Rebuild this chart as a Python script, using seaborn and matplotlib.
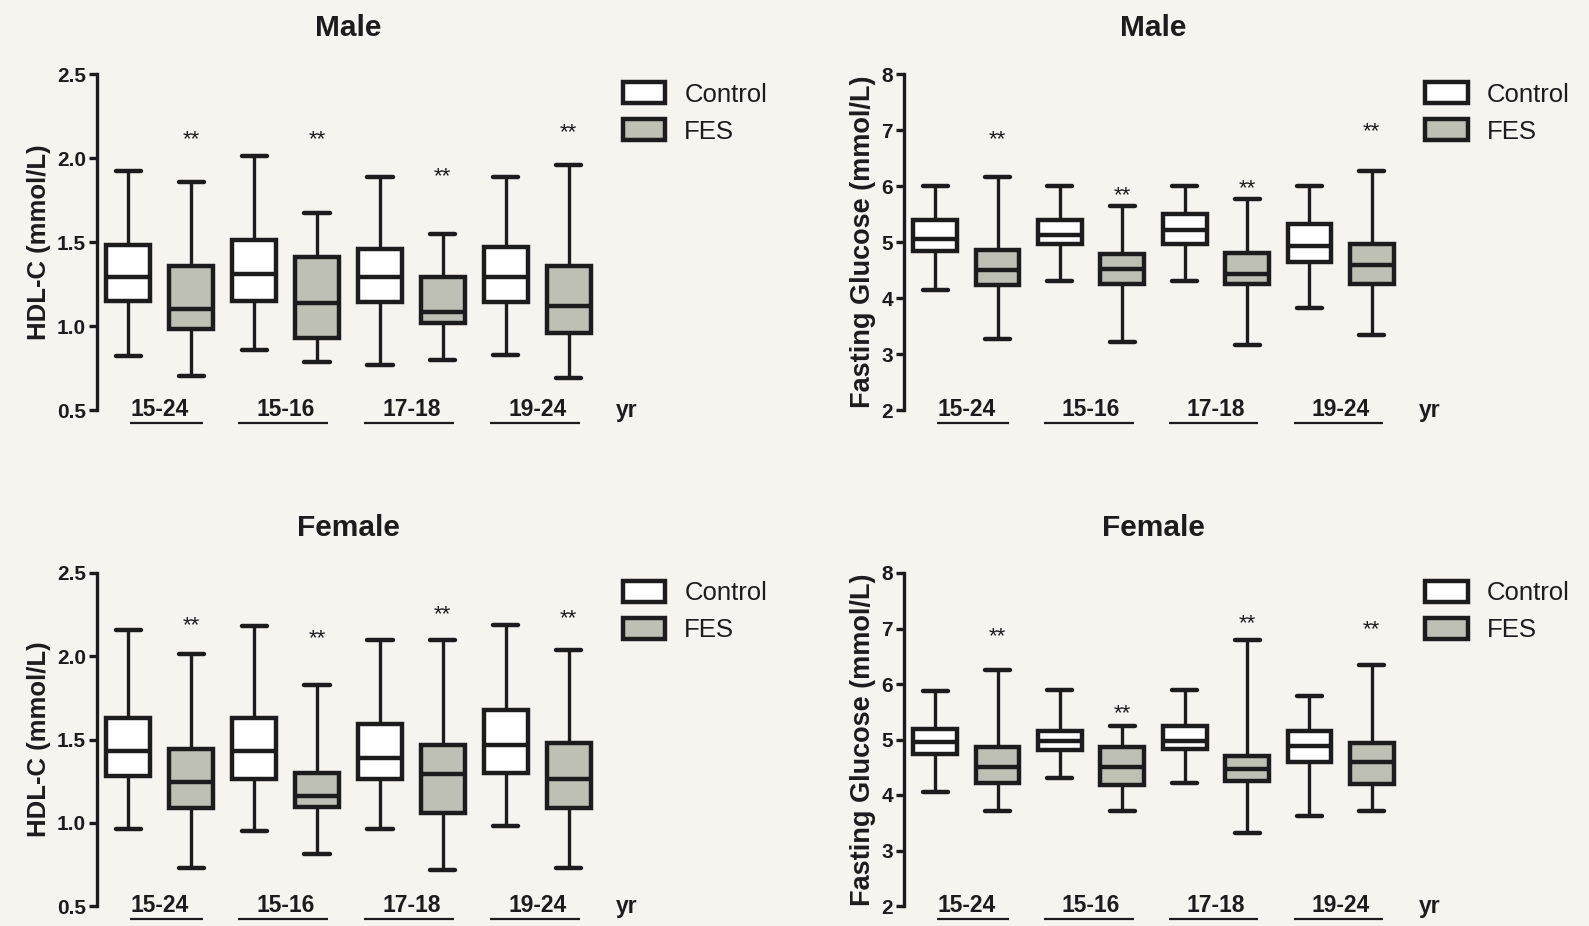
import numpy as np
import pandas as pd
import matplotlib
matplotlib.use("Agg")
import matplotlib.pyplot as plt
from matplotlib.patches import Patch
from matplotlib.transforms import blended_transform_factory, offset_copy
import seaborn as sns

# ---- data -------------------------------------------------------------
age_groups = ["15-24", "15-16", "17-18", "19-24"]
cohorts = ["Control", "FES"]

# five-number summaries per age group: [min, Q1, median, Q3, max]
hdl_male_control = [[0.82, 1.15, 1.29, 1.48, 1.92],
                    [0.86, 1.15, 1.31, 1.51, 2.01],
                    [0.77, 1.14, 1.29, 1.46, 1.885],
                    [0.83, 1.14, 1.29, 1.47, 1.885]]
hdl_male_fes = [[0.70, 0.98, 1.10, 1.36, 1.855],
                [0.785, 0.93, 1.135, 1.41, 1.67],
                [0.80, 1.02, 1.085, 1.29, 1.55],
                [0.69, 0.96, 1.12, 1.36, 1.96]]

glu_male_control = [[4.14, 4.84, 5.05, 5.39, 6.0],
                    [4.31, 4.97, 5.13, 5.40, 6.0],
                    [4.31, 4.97, 5.22, 5.50, 6.0],
                    [3.82, 4.64, 4.93, 5.32, 6.0]]
glu_male_fes = [[3.26, 4.24, 4.50, 4.85, 6.16],
                [3.22, 4.25, 4.51, 4.78, 5.64],
                [3.16, 4.25, 4.42, 4.81, 5.77],
                [3.34, 4.25, 4.59, 4.97, 6.27]]

hdl_female_control = [[0.963, 1.28, 1.43, 1.628, 2.155],
                      [0.953, 1.26, 1.43, 1.628, 2.18],
                      [0.963, 1.26, 1.39, 1.594, 2.10],
                      [0.983, 1.298, 1.464, 1.678, 2.19]]
hdl_female_fes = [[0.728, 1.089, 1.244, 1.444, 2.015],
                  [0.813, 1.093, 1.163, 1.30, 1.825],
                  [0.716, 1.057, 1.29, 1.464, 2.095],
                  [0.728, 1.089, 1.264, 1.478, 2.035]]

glu_female_control = [[4.05, 4.74, 4.95, 5.19, 5.87],
                      [4.30, 4.81, 4.98, 5.16, 5.89],
                      [4.21, 4.83, 4.98, 5.24, 5.89],
                      [3.62, 4.60, 4.88, 5.16, 5.78]]
glu_female_fes = [[3.72, 4.21, 4.51, 4.86, 6.25],
                  [3.72, 4.18, 4.50, 4.86, 5.24],
                  [3.32, 4.25, 4.47, 4.71, 6.80],
                  [3.72, 4.19, 4.60, 4.94, 6.34]]

# height of the "**" significance marks above each FES box
hdl_male_stars = [2.12, 2.12, 1.90, 2.16]
glu_male_stars = [6.86, 5.86, 5.98, 7.00]
hdl_female_stars = [2.195, 2.115, 2.256, 2.236]
glu_female_stars = [6.88, 5.50, 7.12, 7.00]

hdl_ticks = [0.5, 1.0, 1.5, 2.0, 2.5]
glu_ticks = [2, 3, 4, 5, 6, 7, 8]

# ---- style ------------------------------------------------------------
sns.set_theme(style="white")
plt.rcParams["font.family"] = ["Liberation Sans", "DejaVu Sans"]
paper = "#f6f4ef"
ink = "#1c1c1c"
fes_fill = "#bfc0b5"
palette = {"Control": "white", "FES": fes_fill}

W, H = 1589, 926
fig = plt.figure(figsize=(W / 100, H / 100), dpi=100, facecolor=paper)


def px_axes(x0, y0, x1, y1):
    return fig.add_axes([x0 / W, 1 - y1 / H, (x1 - x0) / W, (y1 - y0) / H])


def long_frame(control, fes):
    rows = []
    for g, (c, f) in enumerate(zip(control, fes)):
        for name, summary in (("Control", c), ("FES", f)):
            for v in summary:
                rows.append({"slot": f"{age_groups[g]} {name}", "cohort": name, "value": v})
    return pd.DataFrame(rows)


slots = [f"{g} {c}" for g in age_groups for c in cohorts]


def panel(ax, control, fes, stars, ticks, fmt, ylabel, title, ylabel_size):
    df = long_frame(control, fes)
    sns.boxplot(data=df, x="slot", y="value", hue="cohort", order=slots,
                hue_order=cohorts, palette=palette, dodge=False, width=0.7,
                whis=(0, 100), linewidth=3.2, linecolor=ink, saturation=1,
                legend=False, ax=ax, capwidths=0.4,
                whiskerprops={"linewidth": 2.4})
    ax.set_facecolor(paper)
    ax.set_xlim(-0.5, 7.5)
    ax.set_ylim(ticks[0], ticks[-1])
    ax.set_yticks(ticks)
    ax.set_yticklabels([fmt.format(t) for t in ticks], fontsize=15,
                       fontweight="bold", color=ink)
    ax.set_xticks([])
    ax.set_xlabel("")
    ax.set_ylabel(ylabel, fontsize=ylabel_size, fontweight="bold", color=ink,
                  labelpad=4)
    for s in ("top", "right", "bottom"):
        ax.spines[s].set_visible(False)
    ax.spines["left"].set_linewidth(2.4)
    ax.spines["left"].set_color(ink)
    ax.tick_params(axis="y", direction="out", length=6, width=2.4, color=ink,
                   left=True, pad=2)
    ax.set_title(title, fontsize=21.5, fontweight="bold", color=ink, pad=27)

    # significance marks
    star_tr = offset_copy(ax.transData, fig=fig, y=-5, units="points")
    for g, y in enumerate(stars):
        ax.text(2 * g + 1, y, "**", ha="center", va="baseline", fontsize=16,
                color=ink, transform=star_tr)

    # age-group labels with underline beneath the axis
    tr = blended_transform_factory(ax.transData, ax.transAxes)
    under = -13 / (ax.bbox.height)
    for g, lab in enumerate(age_groups):
        mid = 2 * g + 0.5
        ax.text(mid, 0.0, lab, ha="center", va="center", fontsize=16.5,
                fontweight="bold", color=ink, transform=tr, clip_on=False)
        left = mid - (0.47 if g == 0 else 0.75)
        ax.plot([left, mid + 0.68], [under, under], color=ink, lw=1.6,
                transform=tr, clip_on=False, solid_capstyle="butt")
    ax.text(7.93, 0.0, "yr", ha="center", va="center", fontsize=16.5,
            fontweight="bold", color=ink, transform=tr, clip_on=False)

    handles = [Patch(facecolor="white", edgecolor=ink, linewidth=3.2, label="Control"),
               Patch(facecolor=fes_fill, edgecolor=ink, linewidth=3.2, label="FES")]
    ax.legend(handles=handles, loc="upper left", bbox_to_anchor=(1.045, 0.975),
              frameon=False, fontsize=18.5, handlelength=1.65, handleheight=0.85,
              handletextpad=0.75, labelspacing=0.5, borderpad=0, borderaxespad=0,
              labelcolor=ink)


ax1 = px_axes(97, 74, 600, 410)
ax2 = px_axes(904, 74, 1403, 410)
ax3 = px_axes(97, 573, 600, 906)
ax4 = px_axes(904, 573, 1403, 906)

panel(ax1, hdl_male_control, hdl_male_fes, hdl_male_stars, hdl_ticks,
      "{:.1f}", "HDL-C (mmol/L)", "Male", 18.5)
panel(ax2, glu_male_control, glu_male_fes, glu_male_stars, glu_ticks,
      "{:d}", "Fasting Glucose (mmol/L)", "Male", 19.5)
panel(ax3, hdl_female_control, hdl_female_fes, hdl_female_stars, hdl_ticks,
      "{:.1f}", "HDL-C (mmol/L)", "Female", 18.5)
panel(ax4, glu_female_control, glu_female_fes, glu_female_stars, glu_ticks,
      "{:d}", "Fasting Glucose (mmol/L)", "Female", 19.5)

fig.savefig("out.png", dpi=100, facecolor=paper)
